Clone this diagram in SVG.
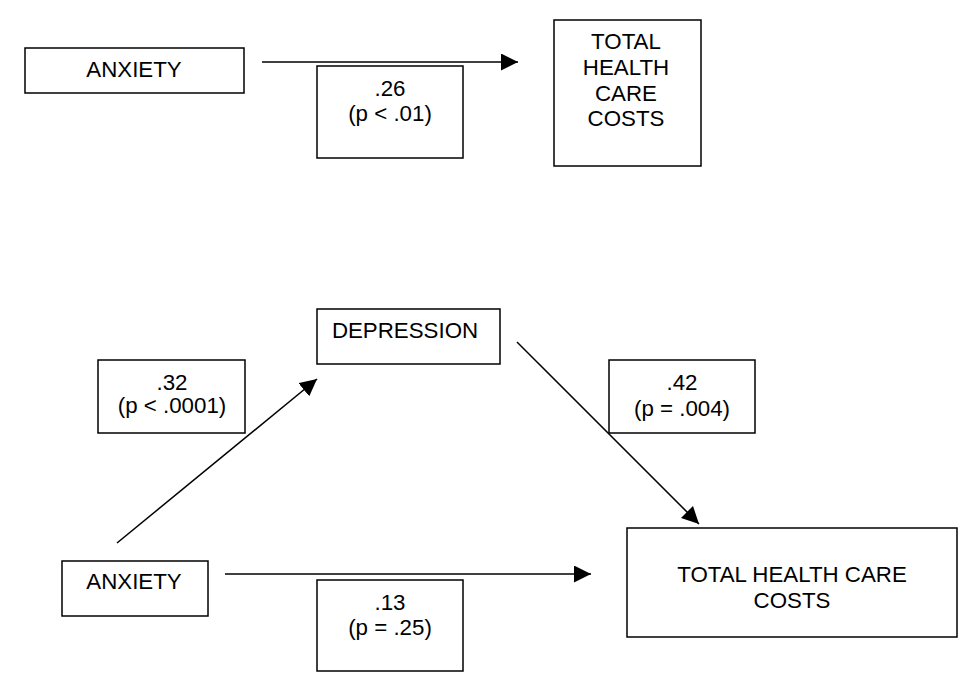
<svg xmlns="http://www.w3.org/2000/svg" width="963" height="696" viewBox="0 0 963 696">
<style>
.box{fill:#fff;stroke:#000;stroke-width:1.5}
.t{font-family:"Liberation Sans",Arial,sans-serif;font-size:22.3px;fill:#000;text-anchor:middle}
.c{stroke:#000;stroke-width:1.5;fill:none;marker-end:url(#ah)}
</style>
<defs>
<marker id="ah" markerUnits="userSpaceOnUse" markerWidth="17" markerHeight="17" refX="16" refY="8" orient="auto" viewBox="0 0 16 16">
<path d="M0,0 L16,8 L0,16 z" fill="#000"/>
</marker>
</defs>
<rect width="963" height="696" fill="#fff"/>
<g id="connectors">
<line class="c" x1="262" y1="62" x2="518" y2="62"/>
<line class="c" x1="117" y1="543" x2="317" y2="379"/>
<line class="c" x1="517" y1="342" x2="699" y2="524"/>
<line class="c" x1="225" y1="574" x2="591" y2="574"/>
</g>
<g id="anxiety1">
<rect class="box" x="25" y="48" width="219" height="45"/>
<text class="t" x="134" y="77">ANXIETY</text>
</g>
<g id="label26">
<rect class="box" x="317" y="66" width="146" height="92"/>
<text class="t" x="390" y="96">.26</text>
<text class="t" x="390" y="121">(p &lt; .01)</text>
</g>
<g id="costs1">
<rect class="box" x="554" y="20" width="147" height="146"/>
<text class="t" x="626" y="49">TOTAL</text>
<text class="t" x="626" y="75">HEALTH</text>
<text class="t" x="626" y="101">CARE</text>
<text class="t" x="626" y="126">COSTS</text>
</g>
<g id="depression">
<rect class="box" x="317" y="309" width="183" height="55"/>
<text class="t" x="405" y="338">DEPRESSION</text>
</g>
<g id="label32">
<rect class="box" x="98" y="360" width="147" height="73"/>
<text class="t" x="172" y="390">.32</text>
<text class="t" x="172" y="413">(p &lt; .0001)</text>
</g>
<g id="label42">
<rect class="box" x="609" y="360" width="146" height="73"/>
<text class="t" x="682" y="390">.42</text>
<text class="t" x="682" y="416">(p = .004)</text>
</g>
<g id="anxiety2">
<rect class="box" x="62" y="561" width="146" height="55"/>
<text class="t" x="134" y="589">ANXIETY</text>
</g>
<g id="label13">
<rect class="box" x="317" y="580" width="146" height="91"/>
<text class="t" x="390" y="610">.13</text>
<text class="t" x="390" y="635">(p = .25)</text>
</g>
<g id="costs2">
<rect class="box" x="627" y="528" width="330" height="109"/>
<text class="t" x="792" y="582">TOTAL HEALTH CARE</text>
<text class="t" x="792" y="608">COSTS</text>
</g>
</svg>
